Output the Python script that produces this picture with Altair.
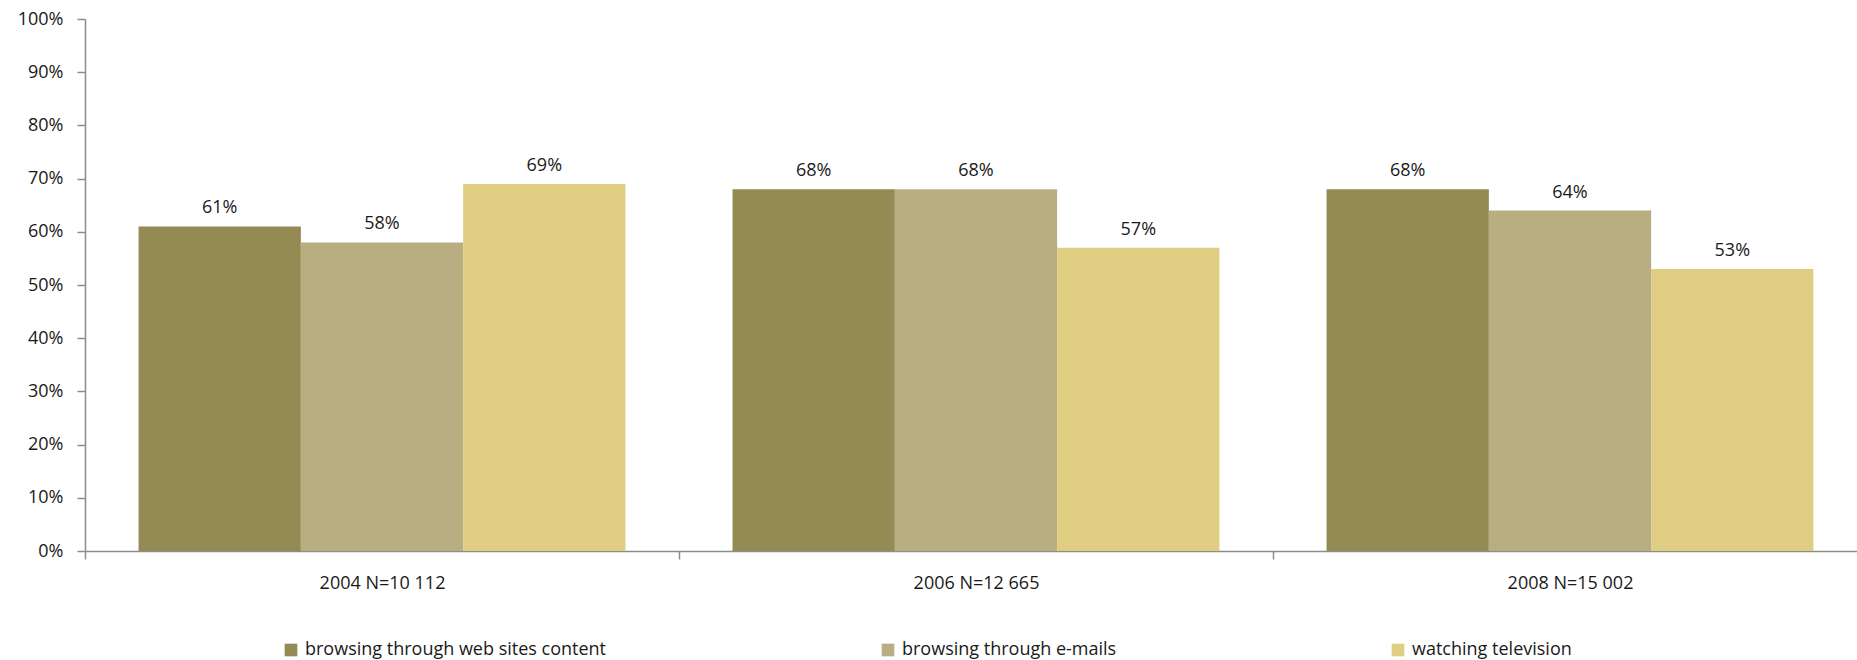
import altair as alt
import pandas as pd

groups = ["2004 N=10 112", "2006 N=12 665", "2008 N=15 002"]
series = ["browsing through web sites content", "browsing through e-mails", "watching television"]
web = [0.61, 0.68, 0.68]
mail = [0.58, 0.68, 0.64]
tv = [0.69, 0.57, 0.53]
colors = ["#948A54", "#B9AE81", "#DFCD81"]
y_ticks = [0, 0.1, 0.2, 0.3, 0.4, 0.5, 0.6, 0.7, 0.8, 0.9, 1.0]

rows = []
for s, vals in zip(series, [web, mail, tv]):
    for g, v in zip(groups, vals):
        rows.append({"group": g, "series": s, "value": v})
df = pd.DataFrame(rows)

FONT = "Open Sans"

x = alt.X("group:N", sort=groups, title=None,
          scale=alt.Scale(paddingInner=0, paddingOuter=0, range=[0, 1782]),
          axis=alt.Axis(labelAngle=0, tickBand="extent", tickSize=8,
                        labelPadding=15, labelFontSize=18, labelFont=FONT,
                        labelColor="#1a1a1a", domainColor="#8c8c8c",
                        tickColor="#8c8c8c", domainWidth=1.5, tickWidth=1.5))
xo = alt.XOffset("series:N", sort=series,
                 scale=alt.Scale(paddingInner=0, paddingOuter=0.33))
y = alt.Y("value:Q", title=None,
          scale=alt.Scale(domain=[0, 1], nice=False),
          axis=alt.Axis(values=y_ticks, format=".0%", grid=False, tickSize=8,
                        labelPadding=14, labelFontSize=18, labelFont=FONT,
                        labelColor="#1a1a1a", domainColor="#8c8c8c",
                        tickColor="#8c8c8c", domainWidth=1.5, tickWidth=1.5))

color = alt.Color("series:N", sort=series,
                  scale=alt.Scale(domain=series, range=colors),
                  legend=alt.Legend(title=None, orient="none", legendX=197, legendY=622,
                                    direction="horizontal", columns=3, columnPadding=272,
                                    symbolType="square", symbolSize=160, symbolStrokeWidth=0,
                                    labelFontSize=18, labelFont=FONT, labelColor="#1a1a1a",
                                    labelOffset=5, labelLimit=600))

bars = alt.Chart(df).mark_bar().encode(x=x, xOffset=xo, y=y, color=color)
labels = alt.Chart(df).mark_text(baseline="bottom", dy=-9, fontSize=18, font=FONT,
                                  color="#1a1a1a").encode(
    x=alt.X("group:N", sort=groups), xOffset=alt.XOffset("series:N", sort=series),
    y="value:Q", text=alt.Text("value:Q", format=".0%"))

chart = alt.layer(bars, labels).properties(
    width=1772, height=532,
    autosize=alt.AutoSizeParams(type="none"),
    padding={"left": 85, "top": 19, "right": 0, "bottom": 109},
    background="white",
).configure_view(stroke=None)

chart.save("out.html", embed_options={"renderer": "svg", "actions": False})
